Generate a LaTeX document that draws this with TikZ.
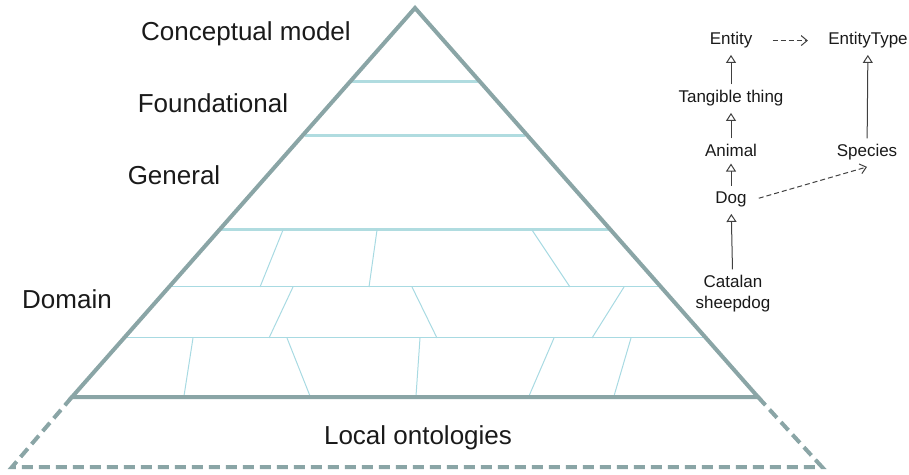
\documentclass[tikz,border=0pt]{standalone}
\usepackage{fontspec}
\setmainfont{Liberation Sans}
\usetikzlibrary{arrows.meta}
\definecolor{edgegray}{RGB}{138,165,166}
\definecolor{layercyan}{RGB}{176,220,224}
\definecolor{brickcyan}{RGB}{168,218,226}
\definecolor{textblack}{RGB}{26,26,26}
\begin{document}
\begin{tikzpicture}[x=0.5pt,y=-0.5pt]
        \tikzstyle{level}=[font=\fontsize{13}{15}\selectfont,text=textblack,inner sep=0pt,anchor=base]
        \tikzstyle{concept}=[font=\fontsize{8.5}{10}\selectfont,text=textblack,inner sep=3pt,anchor=base,align=center]
        \tikzstyle{side}=[draw=edgegray,line width=2pt]
        \tikzstyle{layer}=[draw=layercyan,line width=1.5pt]
        \tikzstyle{brick}=[draw=brickcyan,line width=0.5pt]
        \tikzstyle{isa}=[draw=black!75,line width=0.5pt,-{Triangle[open,length=4pt,width=5pt]}]
        \tikzstyle{inst}=[draw=black!75,line width=0.5pt,dash pattern=on 2.5pt off 1.5pt,-{Straight Barb[length=3pt,width=5pt]}]
        \useasboundingbox (0,0) rectangle (909,475);

       \begin{scope}
         \coordinate (apex) at (415,8);
         \coordinate (bl) at (72,397);
         \coordinate (br) at (758,397);
         \coordinate (ll) at (12,467);
         \coordinate (lr) at (822,467);

         \path[layer] (352,82) -- (478,82);
         \path[layer] (305,136) -- (525,136);
         \path[layer] (221,230) -- (609,230);
         \path[brick] (172,287) -- (658,287);
         \path[brick] (126,338) -- (703,338);

         \foreach \xa/\ya/\xb/\yb in {283/230/260/287, 377/230/369/287, 532/230/570/287,
                                      293/287/269/338, 412/287/437/338, 624/287/592/338,
                                      193/338/184/396, 287/338/310/396, 420/338/416/396,
                                      554/338/529/396, 631/338/614/396}
           \path[brick] (\xa,\ya) -- (\xb,\yb);

         \path[side] (bl) -- (apex) -- (br) -- cycle;
         \path[side,dash pattern=on 5.5pt off 3pt] (bl) -- (ll) -- (lr) -- (br);

         \node [level] (conceptual) at (246,41) {Conceptual model};
         \node [level] (foundational) at (213,113) {Foundational};
         \node [level] (general) at (174,185) {General};
         \node [level] (domain) at (67,308) {Domain};
         \node [level] (local) at (418,444) {Local ontologies};
        \end{scope}

       \begin{scope}
         \node [concept] (entity) at (731,45) {Entity};
         \node [concept] (entitytype) at (868,45) {EntityType};
         \node [concept] (tangible) at (731,103) {Tangible thing};
         \node [concept] (animal) at (731,157) {Animal};
         \node [concept] (species) at (867,157) {Species};
         \node [concept] (dog) at (731,204) {Dog};
         \node [concept] (catalan) at (733,308) {Catalan\\sheepdog};

         \path[isa] (tangible) edge (entity);
         \path[isa] (animal) edge (tangible);
         \path[isa] (dog) edge (animal);
         \path[isa] (catalan) edge (dog);
         \path[isa] (species) edge (entitytype);

         \draw[inst,shorten <=7pt,shorten >=7pt] (entity) -- (entitytype);
         \draw[inst,shorten <=3pt] (dog.east) -- (species.south);
        \end{scope}
      \end{tikzpicture}
\end{document}
